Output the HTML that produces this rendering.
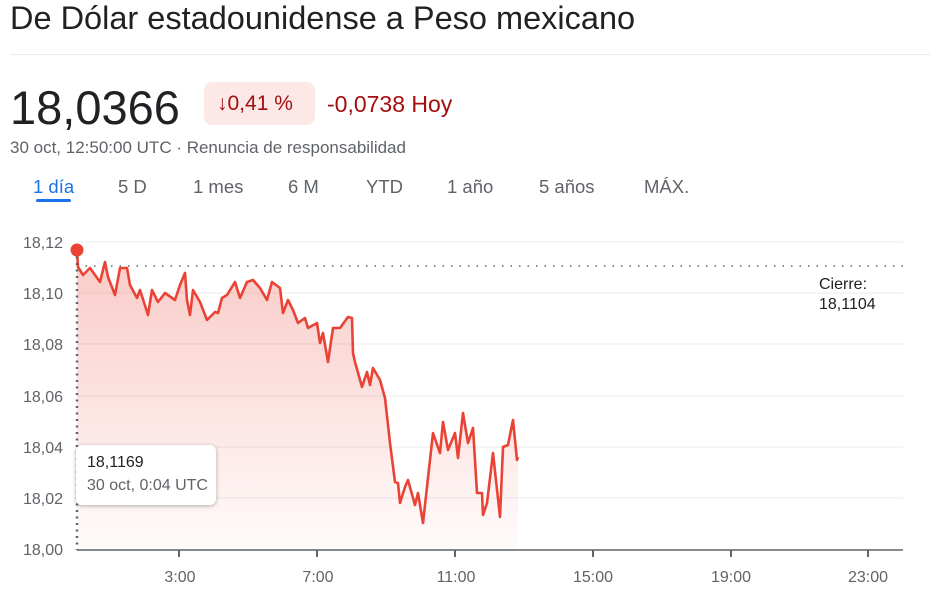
<!DOCTYPE html>
<html><head><meta charset="utf-8"><style>
body{margin:0;width:930px;height:595px;background:#fff;font-family:"Liberation Sans",sans-serif;position:relative;overflow:hidden}
.a{position:absolute;white-space:nowrap}
</style></head><body>
<div class="a" style="left:10px;top:0px;font-size:32.5px;color:#202124">De Dólar estadounidense a Peso mexicano</div>
<div class="a" style="left:10px;top:54px;width:920px;height:1px;background:#e8eaed"></div>
<div class="a" style="left:10px;top:80px;font-size:47px;color:#202124">18,0366</div>
<div class="a" style="left:204px;top:82px;width:111px;height:43px;background:#fce8e6;border-radius:8px"></div>
<div class="a" style="left:217px;top:92px;font-size:21px;color:#a50e0e">↓0,41 %</div>
<div class="a" style="left:327px;top:91px;font-size:23px;color:#a50e0e">-0,0738 Hoy</div>
<div class="a" style="left:10px;top:138px;font-size:17px;color:#5f6368">30 oct, 12:50:00 UTC · Renuncia de responsabilidad</div>
<div class="a" style="top:176px;left:0;font-size:18.5px;color:#5f6368">
<span class="a" style="left:33px;color:#1a73e8">1 día</span>
<span class="a" style="left:118px">5 D</span>
<span class="a" style="left:193px">1 mes</span>
<span class="a" style="left:288px">6 M</span>
<span class="a" style="left:366px">YTD</span>
<span class="a" style="left:447px">1 año</span>
<span class="a" style="left:539px">5 años</span>
<span class="a" style="left:644px">MÁX.</span>
</div>
<div class="a" style="left:36px;top:199px;width:35px;height:3px;background:#1a73e8;border-radius:2px"></div>
<svg class="a" style="left:0;top:0" width="930" height="595">
<defs><linearGradient id="g" x1="0" y1="0" x2="0" y2="1"><stop offset="0" stop-color="#ea4335" stop-opacity="0.28"/><stop offset="1" stop-color="#ea4335" stop-opacity="0.02"/></linearGradient></defs>
<g stroke="#ebebeb" stroke-width="1">
<line x1="77" y1="242" x2="903" y2="242"/><line x1="77" y1="293" x2="903" y2="293"/><line x1="77" y1="344" x2="903" y2="344"/><line x1="77" y1="396" x2="903" y2="396"/><line x1="77" y1="447" x2="903" y2="447"/><line x1="77" y1="498" x2="903" y2="498"/></g>
<line x1="77" y1="266" x2="903" y2="266" stroke="#5f6368" stroke-width="1.5" stroke-dasharray="1.5,7"/>
<g font-size="16" fill="#5f6368" text-anchor="end">
<text x="63" y="248">18,12</text><text x="63" y="299">18,10</text><text x="63" y="350">18,08</text><text x="63" y="402">18,06</text><text x="63" y="453">18,04</text><text x="63" y="504">18,02</text><text x="63" y="555">18,00</text></g>
<g font-size="16" fill="#5f6368" text-anchor="middle">
<text x="180" y="582">3:00</text><text x="318" y="582">7:00</text><text x="456" y="582">11:00</text><text x="593" y="582">15:00</text><text x="731" y="582">19:00</text><text x="868" y="582">23:00</text></g>
<g stroke="#5f6368" stroke-width="2"><line x1="179" y1="550" x2="179" y2="557"/><line x1="317" y1="550" x2="317" y2="557"/><line x1="455" y1="550" x2="455" y2="557"/><line x1="593" y1="550" x2="593" y2="557"/><line x1="731" y1="550" x2="731" y2="557"/><line x1="868" y1="550" x2="868" y2="557"/></g>
<text x="819" y="289" font-size="16" fill="#202124">Cierre:</text>
<text x="819" y="309" font-size="16" fill="#202124">18,1104</text>
<polygon fill="url(#g)" points="77,250 78,267 83,275 90,268 100,282 105,262 108,277 115,295 120,268 127,268 130,285 137,298 140,290 148,315 152,290 158,302 165,293 175,300 180,285 185,273 187,300 190,315 193,290 200,302 207,320 215,312 218,313 222,298 227,295 235,282 240,298 247,282 253,280 260,288 267,300 272,282 280,288 283,313 288,300 293,310 298,323 305,318 308,328 317,323 320,343 323,333 328,362 333,328 340,328 348,317 352,318 353,353 355,362 362,387 367,372 370,385 373,368 380,380 385,398 390,443 395,482 398,483 400,503 405,487 408,480 415,505 418,493 423,523 430,460 433,433 440,453 443,422 448,450 455,433 458,458 463,413 468,443 473,428 477,493 482,493 483,515 487,503 493,453 500,517 503,447 508,445 513,420 517,460 518,457 518,550 77,550"/>
<polyline fill="none" stroke="#ea4335" stroke-width="2.6" stroke-linejoin="round" points="77,250 78,267 83,275 90,268 100,282 105,262 108,277 115,295 120,268 127,268 130,285 137,298 140,290 148,315 152,290 158,302 165,293 175,300 180,285 185,273 187,300 190,315 193,290 200,302 207,320 215,312 218,313 222,298 227,295 235,282 240,298 247,282 253,280 260,288 267,300 272,282 280,288 283,313 288,300 293,310 298,323 305,318 308,328 317,323 320,343 323,333 328,362 333,328 340,328 348,317 352,318 353,353 355,362 362,387 367,372 370,385 373,368 380,380 385,398 390,443 395,482 398,483 400,503 405,487 408,480 415,505 418,493 423,523 430,460 433,433 440,453 443,422 448,450 455,433 458,458 463,413 468,443 473,428 477,493 482,493 483,515 487,503 493,453 500,517 503,447 508,445 513,420 517,460 518,457"/>
<line x1="77" y1="250" x2="77" y2="550" stroke="#5f6368" stroke-width="2.5" stroke-dasharray="2,4.5"/>
<line x1="77" y1="550" x2="903" y2="550" stroke="#5f6368" stroke-width="1.5"/>
<circle cx="77" cy="250" r="6.5" fill="#ea4335"/>
</svg>
<div class="a" style="left:76px;top:445px;width:140px;height:60px;background:#fff;border-radius:6px;box-shadow:0 1px 4px rgba(0,0,0,0.3)"></div>
<div class="a" style="left:87px;top:454px;font-size:16px;color:#202124">18,1169</div>
<div class="a" style="left:87px;top:477px;font-size:16px;color:#5f6368">30 oct, 0:04 UTC</div>
</body></html>
